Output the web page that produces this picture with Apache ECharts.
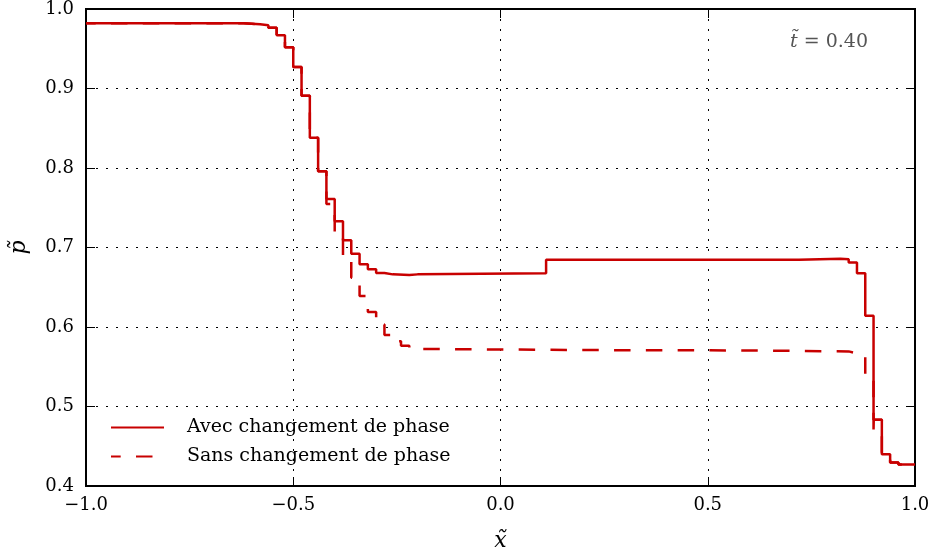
<!DOCTYPE html>
<html>
<head>
<meta charset="utf-8">
<script src="https://cdn.jsdelivr.net/npm/echarts@6/dist/echarts.min.js"></script>
<style>
html,body{margin:0;padding:0;background:#fff;}
#chart{width:933px;height:559px;}
</style>
</head>
<body>
<div id="chart"></div>
<script>
// Step breakpoints (left edge of each cell) and cell values
var avecX = [-1.0, -0.62, -0.60, -0.58, -0.56, -0.54, -0.52, -0.50, -0.48, -0.46, -0.44, -0.42, -0.40, -0.38, -0.36, -0.34, -0.32, -0.30, -0.28, -0.26, -0.22, -0.20, 0.11, 0.72, 0.82, 0.84, 0.86, 0.88, 0.90, 0.9005, 0.92, 0.94, 0.96, 1.0];
var avecP = [0.982, 0.9815, 0.9808, 0.9795, 0.9765, 0.967, 0.952, 0.927, 0.891, 0.838, 0.796, 0.761, 0.733, 0.709, 0.692, 0.679, 0.6725, 0.668, 0.6662, 0.6653, 0.6662, 0.6675, 0.6845, 0.686, 0.6853, 0.6812, 0.6675, 0.614, 0.471, 0.4834, 0.440, 0.4297, 0.4271, 0.4271];

var sansX = [-1.0, -0.62, -0.60, -0.58, -0.56, -0.54, -0.52, -0.50, -0.48, -0.46, -0.44, -0.42, -0.40, -0.38, -0.36, -0.34, -0.32, -0.30, -0.28, -0.26, -0.24, -0.22, -0.20, 0.20, 0.60, 0.84, 0.86, 0.88, 0.90, 0.92, 0.94, 0.96, 1.0];
var sansP = [0.982, 0.9815, 0.9808, 0.9795, 0.9765, 0.967, 0.952, 0.927, 0.891, 0.838, 0.796, 0.7546, 0.7195, 0.689, 0.662, 0.639, 0.619, 0.603, 0.590, 0.582, 0.5765, 0.5724, 0.571, 0.5705, 0.5693, 0.5668, 0.5655, 0.5335, 0.4834, 0.440, 0.4297, 0.4271, 0.4271];

var seriesNames = ['Avec changement de phase', 'Sans changement de phase'];
var annotation = '{it|t\u0303} = 0.40';
var xName = 'x\u0303';
var yName = 'p\u0303';

var RED = '#c80000';
var FONT = 'DejaVu Serif';

function pairs(xs, ys) { return xs.map(function (x, i) { return [x, ys[i]]; }); }
function fmt(v) { return v.toFixed(1).replace('-', '\u2212'); }

var chart = echarts.init(document.getElementById('chart'), null, {renderer: 'canvas'});

var dotted = {show: true, lineStyle: {color: '#000', width: 1, type: [2, 8]}};

chart.setOption({
  animation: false,
  backgroundColor: '#fff',
  grid: {left: 85, right: 18, top: 7, bottom: 73, show: true, borderColor: '#000', borderWidth: 2, backgroundColor: 'transparent'},
  legend: {
    orient: 'vertical', left: 110, top: 418, padding: 0,
    itemWidth: 53, itemHeight: 14, itemGap: 10,
    data: [seriesNames[0], seriesNames[1]],
    itemStyle: {opacity: 0},
    textStyle: {fontFamily: FONT, fontSize: 19, color: '#000', padding: [0, 0, 0, 18]}
  },
  xAxis: [{
    type: 'value', min: -1, max: 1, interval: 0.5,
    name: xName, nameLocation: 'middle', nameGap: 44,
    nameTextStyle: {fontFamily: FONT, fontStyle: 'italic', fontSize: 22, color: '#000'},
    axisLine: {show: true, onZero: false, lineStyle: {color: '#000', width: 2}},
    axisTick: {show: true, inside: true, length: 9, lineStyle: {color: '#000', width: 1}},
    axisLabel: {formatter: fmt, fontFamily: FONT, fontSize: 18, color: '#000', margin: 10},
    splitLine: dotted
  }, {
    type: 'value', min: -1, max: 1, interval: 0.5, position: 'top',
    axisLine: {show: true, onZero: false, lineStyle: {color: '#000', width: 2}},
    axisTick: {show: true, inside: true, length: 9, lineStyle: {color: '#000', width: 1}},
    axisLabel: {show: false}, splitLine: {show: false}
  }],
  yAxis: [{
    type: 'value', min: 0.4, max: 1.0, interval: 0.1,
    name: yName, nameLocation: 'middle', nameGap: 56, nameRotate: 90,
    nameTextStyle: {fontFamily: FONT, fontStyle: 'italic', fontSize: 22, color: '#000'},
    axisLine: {show: true, onZero: false, lineStyle: {color: '#000', width: 2}},
    axisTick: {show: true, inside: true, length: 9, lineStyle: {color: '#000', width: 1}},
    axisLabel: {formatter: fmt, fontFamily: FONT, fontSize: 18, color: '#000', margin: 12},
    splitLine: dotted
  }, {
    type: 'value', min: 0.4, max: 1.0, interval: 0.1, position: 'right',
    axisLine: {show: true, onZero: false, lineStyle: {color: '#000', width: 2}},
    axisTick: {show: true, inside: true, length: 9, lineStyle: {color: '#000', width: 1}},
    axisLabel: {show: false}, splitLine: {show: false}
  }],
  graphic: [{
    type: 'text', right: 65, top: 33,
    style: {
      text: annotation, fontFamily: FONT, fontSize: 19, fill: '#555', textAlign: 'right',
      rich: {it: {fontFamily: FONT, fontStyle: 'italic', fontSize: 19, fill: '#555'}}
    }
  }],
  series: [{
    name: seriesNames[1], type: 'line', step: 'end', symbol: 'none', z: 2,
    data: pairs(sansX, sansP),
    lineStyle: {color: RED, width: 2.5, type: [16.5, 15.3], dashOffset: 6.8},
    itemStyle: {color: RED}
  }, {
    name: seriesNames[0], type: 'line', step: 'end', symbol: 'none', z: 3,
    data: pairs(avecX, avecP),
    lineStyle: {color: RED, width: 2.5, type: 'solid'},
    itemStyle: {color: RED}
  }]
});
</script>
</body>
</html>
